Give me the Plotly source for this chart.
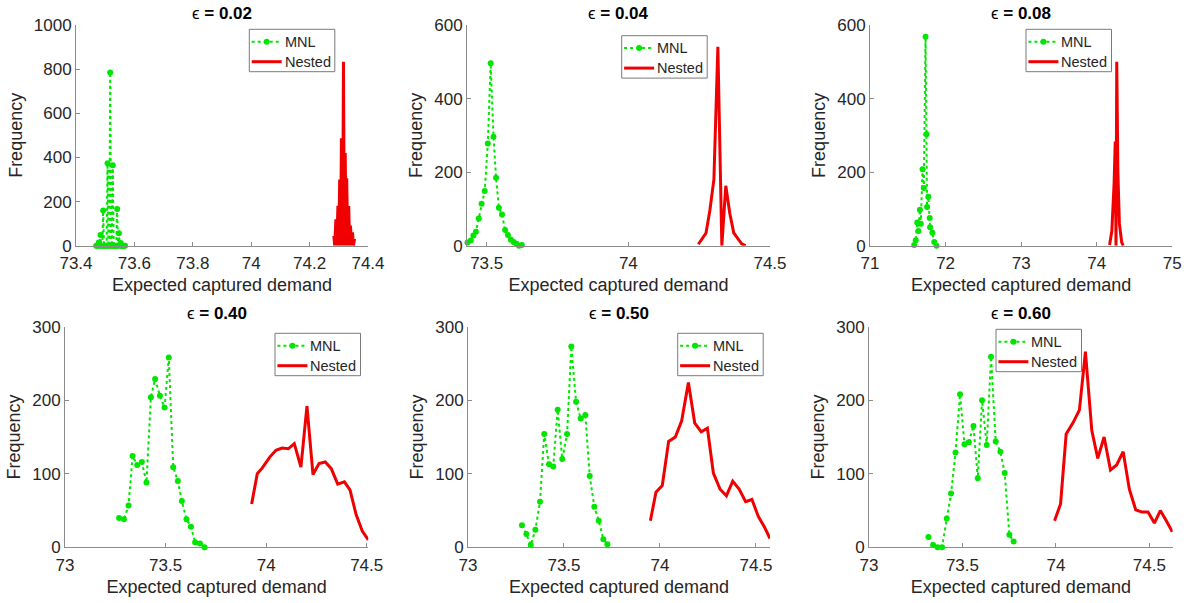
import plotly.graph_objects as go

# ---- epsilon = 0.02 ----
mnl_x_002 = [73.469, 73.472, 73.475, 73.478, 73.481, 73.484, 73.487, 73.490, 73.493, 73.496,
             73.499, 73.502, 73.505, 73.508, 73.511, 73.514, 73.517, 73.520, 73.523, 73.526,
             73.529, 73.532, 73.535, 73.538, 73.541, 73.544, 73.547, 73.550, 73.553, 73.556,
             73.559, 73.562, 73.565, 73.568]
mnl_y_002 = [0, 0, 0, 14, 0, 48, 0, 0, 159, 0,
             0, 0, 0, 374, 0, 0, 785, 0, 0, 365,
             0, 0, 0, 0, 166, 0, 56, 0, 12, 0,
             0, 0, 0, 0]
nest_x_002 = [74.283, 74.286, 74.290, 74.293, 74.297, 74.300, 74.303, 74.306, 74.309, 74.313,
              74.316, 74.319, 74.322, 74.325, 74.327, 74.331, 74.334, 74.337, 74.340, 74.344,
              74.347, 74.350, 74.354]
nest_y_002 = [45, 0, 120, 0, 181, 0, 300, 0, 487, 0,
              834, 0, 420, 0, 306, 0, 180, 0, 91, 0,
              60, 0, 30]

# ---- epsilon = 0.04 ----
mnl_x_004 = [73.432, 73.444, 73.453, 73.462, 73.472, 73.482, 73.493, 73.504, 73.514, 73.524,
             73.533, 73.543, 73.554, 73.565, 73.575, 73.585, 73.595, 73.605, 73.614, 73.624]
mnl_y_004 = [9, 14, 28, 38, 74, 114, 149, 278, 496, 296,
             185, 103, 85, 43, 29, 17, 10, 5, 0, 2]
nest_x_004 = [74.247, 74.261, 74.274, 74.288, 74.302, 74.316, 74.330, 74.344, 74.358, 74.372,
              74.386, 74.400, 74.414]
nest_y_004 = [4, 20, 34, 97, 180, 541, 0, 163, 88, 35, 20, 5, 0]

# ---- epsilon = 0.08 ----
mnl_x_008 = [71.585, 71.605, 71.625, 71.640, 71.660, 71.672, 71.695, 71.712, 71.735, 71.748,
             71.755, 71.772, 71.790, 71.795, 71.825, 71.850, 71.880]
mnl_y_008 = [2, 15, 63, 40, 98, 60, 208, 157, 568, 303,
             105, 133, 75, 50, 35, 10, 0]
nest_x_008 = [74.17, 74.20, 74.23, 74.245, 74.255, 74.265, 74.28, 74.30, 74.33, 74.35]
nest_y_008 = [2, 40, 170, 283, 0, 500, 200, 60, 10, 0]

# ---- epsilon = 0.40 ----
mnl_x_040 = [73.269, 73.293, 73.316, 73.336, 73.359, 73.382, 73.405, 73.427, 73.448, 73.472,
             73.495, 73.516, 73.538, 73.561, 73.581, 73.604, 73.626, 73.647, 73.671, 73.694]
mnl_y_040 = [40, 38, 57, 124, 112, 116, 88, 204, 229, 206,
             190, 258, 109, 90, 63, 38, 28, 7, 5, 0]
nest_x_040 = [73.928, 73.956, 73.981, 74.019, 74.049, 74.079, 74.110, 74.140, 74.173, 74.203,
              74.233, 74.263, 74.294, 74.324, 74.356, 74.389, 74.417, 74.447, 74.478, 74.508]
nest_y_040 = [59, 100, 108, 123, 132, 135, 134, 141, 109, 192,
              99, 114, 116, 107, 86, 89, 78, 45, 22, 10]

# ---- epsilon = 0.50 ----
mnl_x_050 = [73.281, 73.304, 73.327, 73.351, 73.375, 73.397, 73.422, 73.444, 73.467, 73.491,
             73.516, 73.538, 73.563, 73.587, 73.611, 73.634, 73.658, 73.681, 73.705, 73.726]
mnl_y_050 = [30, 18, 3, 24, 62, 154, 113, 110, 187, 120,
             154, 273, 198, 175, 180, 97, 55, 36, 11, 4]
nest_x_050 = [73.950, 73.979, 74.012, 74.045, 74.080, 74.113, 74.148, 74.181, 74.215, 74.247,
              74.278, 74.313, 74.346, 74.379, 74.413, 74.446, 74.479, 74.512, 74.543, 74.573]
nest_y_050 = [36, 75, 84, 144, 150, 172, 224, 169, 157, 162,
              101, 79, 70, 90, 79, 62, 65, 42, 28, 12]

# ---- epsilon = 0.60 ----
mnl_x_060 = [73.318, 73.343, 73.367, 73.391, 73.416, 73.439, 73.463, 73.487, 73.511, 73.534,
             73.559, 73.582, 73.605, 73.630, 73.653, 73.678, 73.703, 73.726, 73.751, 73.774]
mnl_y_060 = [14, 3, 0, 0, 39, 73, 129, 208, 140, 143,
             165, 94, 200, 139, 259, 144, 130, 101, 17, 8]
nest_x_060 = [73.993, 74.025, 74.055, 74.093, 74.126, 74.158, 74.192, 74.224, 74.258, 74.292,
              74.325, 74.360, 74.393, 74.427, 74.459, 74.493, 74.527, 74.559, 74.593, 74.623]
nest_y_060 = [36, 59, 154, 170, 187, 266, 159, 121, 150, 105,
              112, 130, 79, 51, 48, 48, 33, 50, 35, 21]

# ---- panel labels and ticks ----
eps_labels = ["0.02", "0.04", "0.08", "0.40", "0.50", "0.60"]
series_names = ["MNL", "Nested"]
x_ranges = [[73.4, 74.4], [73.4305, 74.5], [71, 75], [73, 74.508], [73, 74.573], [73, 74.625]]
x_tickvals = [[73.4, 73.6, 73.8, 74.0, 74.2, 74.4], [73.5, 74.0, 74.5], [71, 72, 73, 74, 75],
              [73, 73.5, 74, 74.5], [73, 73.5, 74, 74.5], [73, 73.5, 74, 74.5]]
x_ticktext = [["73.4", "73.6", "73.8", "74", "74.2", "74.4"], ["73.5", "74", "74.5"],
              ["71", "72", "73", "74", "75"], ["73", "73.5", "74", "74.5"],
              ["73", "73.5", "74", "74.5"], ["73", "73.5", "74", "74.5"]]
y_maxes = [1000, 600, 600, 300, 300, 300]
y_tickvals = [[0, 200, 400, 600, 800, 1000], [0, 200, 400, 600], [0, 200, 400, 600],
              [0, 100, 200, 300], [0, 100, 200, 300], [0, 100, 200, 300]]

mnl_series = [(mnl_x_002, mnl_y_002), (mnl_x_004, mnl_y_004), (mnl_x_008, mnl_y_008),
              (mnl_x_040, mnl_y_040), (mnl_x_050, mnl_y_050), (mnl_x_060, mnl_y_060)]
nest_series = [(nest_x_002, nest_y_002), (nest_x_004, nest_y_004), (nest_x_008, nest_y_008),
               (nest_x_040, nest_y_040), (nest_x_050, nest_y_050), (nest_x_060, nest_y_060)]

# ---- layout geometry (pixels, converted to paper fractions) ----
W, H = 1190, 603
x_px = [(76, 368), (467, 770), (870, 1172.3), (65, 368.3), (468, 770), (869, 1172.7)]
y_px = [(25, 245.7)] * 3 + [(326.7, 547.3)] * 3
legend_px = [(249.3, 29.3), (621.7, 35.7), (1026, 29.3), (275, 333.3), (677.7, 333.3), (996, 329.3)]
LEG_W, LEG_H = 85.5, 42.4
title_y_px = [13, 13, 13, 313, 313, 313]

FONT = "Liberation Sans, Arial, Helvetica, sans-serif"
TEXT = "#262626"
AXIS = "#8c8c8c"
GREEN = "#00e600"
RED = "#f00000"


def px(x):
    return x / W


def py(y):
    return 1 - y / H


fig = go.Figure()
layout = dict(
    width=W, height=H,
    margin=dict(l=0, r=0, t=0, b=0),
    paper_bgcolor="white", plot_bgcolor="white",
    font=dict(family=FONT, color=TEXT),
    showlegend=False,
    annotations=[], shapes=[],
)

for i in range(6):
    n = "" if i == 0 else str(i + 1)
    xa, ya = "x" + n, "y" + n
    mx, my = mnl_series[i]
    nx, ny = nest_series[i]
    fig.add_trace(go.Scatter(
        x=mx, y=my, name=series_names[0], mode="lines+markers",
        line=dict(color=GREEN, width=2, dash="dot"),
        marker=dict(color=GREEN, size=6),
        cliponaxis=False, xaxis=xa, yaxis=ya,
    ))
    fig.add_trace(go.Scatter(
        x=nx, y=ny, name=series_names[1], mode="lines",
        line=dict(color=RED, width=3),
        cliponaxis=False, xaxis=xa, yaxis=ya,
    ))

    x0, x1 = x_px[i]
    y0, y1 = y_px[i]
    common = dict(showgrid=False, zeroline=False, showline=True, linecolor=AXIS, linewidth=1,
                  ticks="inside", ticklen=4, tickcolor=AXIS, tickwidth=1,
                  tickfont=dict(size=17, color=TEXT, family=FONT), automargin=False)
    layout["xaxis" + n] = dict(
        domain=[px(x0), px(x1)], anchor=ya, range=x_ranges[i],
        tickmode="array", tickvals=x_tickvals[i], ticktext=x_ticktext[i],
        ticklabelstandoff=2,
        title=dict(text="Expected captured demand", font=dict(size=18, color=TEXT), standoff=6),
        **common,
    )
    layout["yaxis" + n] = dict(
        domain=[py(y1), py(y0)], anchor=xa, range=[0, y_maxes[i]],
        tickmode="array", tickvals=y_tickvals[i],
        title=dict(text="Frequency", font=dict(size=18, color=TEXT), standoff=6),
        **common,
    )

    # per-panel legend box: frame, line samples and labels
    lx, ly = legend_px[i]
    layout["shapes"].append(dict(
        type="rect", xref="paper", yref="paper",
        x0=px(lx), x1=px(lx + LEG_W), y0=py(ly + LEG_H), y1=py(ly),
        line=dict(color="#7a7a7a", width=1), fillcolor="white", layer="above",
    ))
    row_y = [ly + 12.4, ly + 32.4]
    layout["shapes"].append(dict(
        type="line", xref="paper", yref="paper",
        x0=px(lx + 2.4), x1=px(lx + 32.4), y0=py(row_y[0]), y1=py(row_y[0]),
        line=dict(color=GREEN, width=2, dash="dot"), layer="above",
    ))
    layout["shapes"].append(dict(
        type="circle", xref="paper", yref="paper",
        x0=px(lx + 17.4 - 3), x1=px(lx + 17.4 + 3),
        y0=py(row_y[0] + 3), y1=py(row_y[0] - 3),
        line=dict(color=GREEN, width=0), fillcolor=GREEN, layer="above",
    ))
    layout["shapes"].append(dict(
        type="line", xref="paper", yref="paper",
        x0=px(lx + 2.4), x1=px(lx + 32.4), y0=py(row_y[1]), y1=py(row_y[1]),
        line=dict(color=RED, width=3), layer="above",
    ))
    for k in range(2):
        layout["annotations"].append(dict(
            text=series_names[k], x=px(lx + 33.4), y=py(row_y[k]),
            xref="paper", yref="paper", xanchor="left", yanchor="middle",
            showarrow=False, font=dict(size=14.5, color=TEXT, family=FONT),
        ))

    layout["annotations"].append(dict(
        text="ϵ <b>= " + eps_labels[i] + "</b>",
        x=px((x0 + x1) / 2), y=py(title_y_px[i]),
        xref="paper", yref="paper", xanchor="center", yanchor="middle",
        showarrow=False, font=dict(size=17, color="black", family=FONT),
    ))

fig.update_layout(**layout)
fig.write_html("out.html")
